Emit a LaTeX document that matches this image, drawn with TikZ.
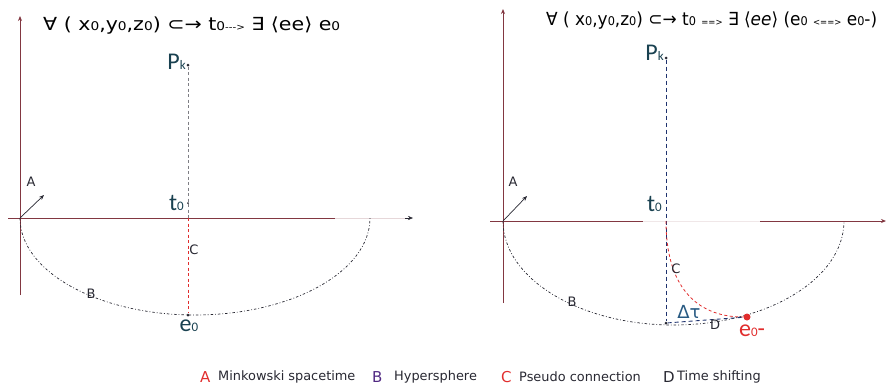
\documentclass[tikz,border=0pt]{standalone}
\usepackage{fontspec}
\usepackage{graphicx}
\setmainfont{DejaVu Sans}
\newfontfamily\lblfont{Carlito}
\usetikzlibrary{arrows.meta}
\definecolor{axiscol}{RGB}{130,55,65}
\definecolor{lblcol}{RGB}{25,65,80}
\definecolor{redc}{RGB}{225,45,45}
\definecolor{darkc}{RGB}{40,40,50}
\definecolor{bluec}{RGB}{30,50,110}
\definecolor{purplec}{RGB}{80,40,130}
\definecolor{dtau}{RGB}{40,90,130}
\newcommand{\zs}[1]{{\fontsize{12}{12}\selectfont #1}}
\newcommand{\ls}[1]{{\fontsize{13}{13}\selectfont #1}}
\newcommand{\sm}[1]{{\fontsize{9}{9}\selectfont #1}}
\begin{document}
\begin{tikzpicture}[x=1pt,y=-1pt,
  axis/.style={draw=axiscol, line width=0.9pt},
  tip/.style={-{Stealth[length=5pt,width=4pt]}},
  hyper/.style={draw=darkc, line width=0.7pt, dash pattern=on 2.5pt off 2pt on 0.8pt off 2pt},
  vdash/.style={draw=darkc!60, line width=0.7pt, dash pattern=on 3pt off 2.5pt},
  rdash/.style={draw=redc, line width=0.8pt, dash pattern=on 3pt off 2.5pt},
  bdash/.style={draw=bluec, line width=0.9pt, dash pattern=on 4pt off 3pt},
  lbl/.style={font=\lblfont\fontsize{24}{24}\selectfont, text=lblcol, inner sep=0pt},
  letter/.style={font=\fontsize{13}{13}\selectfont, text=darkc, inner sep=0pt},
  title/.style={font=\fontsize{18}{18}\selectfont, anchor=base west, inner sep=0pt, text=black},
  legtext/.style={font=\fontsize{12.9}{12.9}\selectfont, anchor=west, inner sep=0pt, text=darkc},
  legletter/.style={font=\fontsize{15}{15}\selectfont, anchor=west, inner sep=0pt},
  dot/.style={circle, fill=darkc, inner sep=0pt, minimum size=3pt},
]
\useasboundingbox (0,0) rectangle (887,389);

% ---------------- left panel ----------------
\coordinate (LO) at (20,218);
\coordinate (LYb) at (20,295);
\coordinate (LYt) at (20,16);
\coordinate (LXl) at (8,218);
\coordinate (LXm) at (335,218);
\coordinate (LXf) at (405,218);
\coordinate (LXt) at (413,218);
\coordinate (LAe) at (44,195);
\coordinate (Lax) at (188,218);

\draw[axis, tip] (LYb) -- (LYt);
\draw[axis] (LXl) -- (LXm);
\draw[draw=axiscol!20, line width=0.9pt] (LXm) -- (LXf);
\draw[darkc, tip] (LXf) -- (LXt);
\draw[darkc, line width=0.7pt, tip] (LO) -- (LAe);

\draw[hyper] (LO) arc[start angle=180, end angle=0, x radius=175, y radius=97];

\node[dot] (LPk) at (188,65) {};
\node[dot, minimum size=2pt] (Lt0) at (188,203) {};
\node[dot] (Le0) at (188,315) {};
\draw[vdash] (LPk) -- (Lax);
\draw[rdash] (Lax) -- (Le0);

\node[lbl, anchor=east] (LPkl) at (186,62) {P\ls{k}};
\node[lbl, anchor=east] (Lt0l) at (184,203) {t\ls{0}};
\node[lbl] (Le0l) at (189,326) {e\ls{0}};
\node[letter] (LC) at (194,250) {C};
\node[letter] (LB) at (91,294) {B};
\node[letter] (LA) at (31,182) {A};

\node[title] (Ltitle) at (43,30) {\resizebox{297pt}{\height}{∀ ( x\zs{0},y\zs{0},z\zs{0}) ⊂→ t\zs{0}\sm{-{}-{}->} ∃ ⟨ee⟩ e\zs{0}}};

% ---------------- right panel ----------------
\coordinate (RO) at (503,221);
\coordinate (RYb) at (503,303);
\coordinate (RYt) at (503,9);
\coordinate (RXl) at (490,221);
\coordinate (RXm) at (643,221);
\coordinate (RXn) at (760,221);
\coordinate (RXt) at (886,221);
\coordinate (RAe) at (527,196);
\coordinate (Rax) at (666,221);

\draw[axis, tip] (RYb) -- (RYt);
\draw[axis] (RXl) -- (RXm);
\draw[draw=axiscol!12, line width=0.9pt] (RXm) -- (RXn);
\draw[axis, tip] (RXn) -- (RXt);
\draw[darkc, line width=0.7pt, tip] (RO) -- (RAe);

\draw[hyper] (RO) arc[start angle=180, end angle=0, x radius=170.5, y radius=104];

\node[dot] (RPk) at (666,58) {};
\node[dot] (Rbot) at (666,323) {};
\node[circle, fill=redc, inner sep=0pt, minimum size=7pt] (Re0m) at (747,317) {};
\draw[bdash] (RPk) -- (Rbot);
\draw[rdash] (Rax) .. controls (666,285) and (695,317) .. (Re0m);
\draw[bdash] (Rbot) -- (Re0m);

\node[lbl, anchor=east] (RPkl) at (664,53) {P\ls{k}};
\node[lbl, anchor=east] (Rt0l) at (662,204) {t\ls{0}};
\node[lbl, text=redc, anchor=west] (Re0ml) at (739,331) {e\ls{0}-};
\node[font=\fontsize{18}{18}\selectfont, text=dtau, inner sep=0pt] (Rdt) at (689,312) {Δτ};
\node[letter] (RD) at (715,325) {D};
\node[letter] (RC) at (676,269) {C};
\node[letter] (RB) at (572,302) {B};
\node[letter] (RA) at (513,182) {A};

\node[title] (Rtitle) at (546,25) {\resizebox{331pt}{\height}{∀ ( x\zs{0},y\zs{0},z\zs{0}) ⊂→ t\zs{0} \sm{==>} ∃ ⟨\textit{ee}⟩ (e\zs{0} \sm{<==>} e\zs{0}-)}};

% ---------------- legend ----------------
\node[legletter, text=redc] (gA) at (200,377) {A};
\node[legtext] (gAt) at (218,377) {Minkowski spacetime};
\node[legletter, text=purplec] (gB) at (372,377) {B};
\node[legtext] (gBt) at (394,377) {Hypersphere};
\node[legletter, text=redc] (gC) at (501,377) {C};
\node[legtext] (gCt) at (519,377) {Pseudo connection};
\node[legletter, text=darkc] (gD) at (663,377) {D};
\node[legtext] (gDt) at (677,377) {Time shifting};
\end{tikzpicture}
\end{document}
